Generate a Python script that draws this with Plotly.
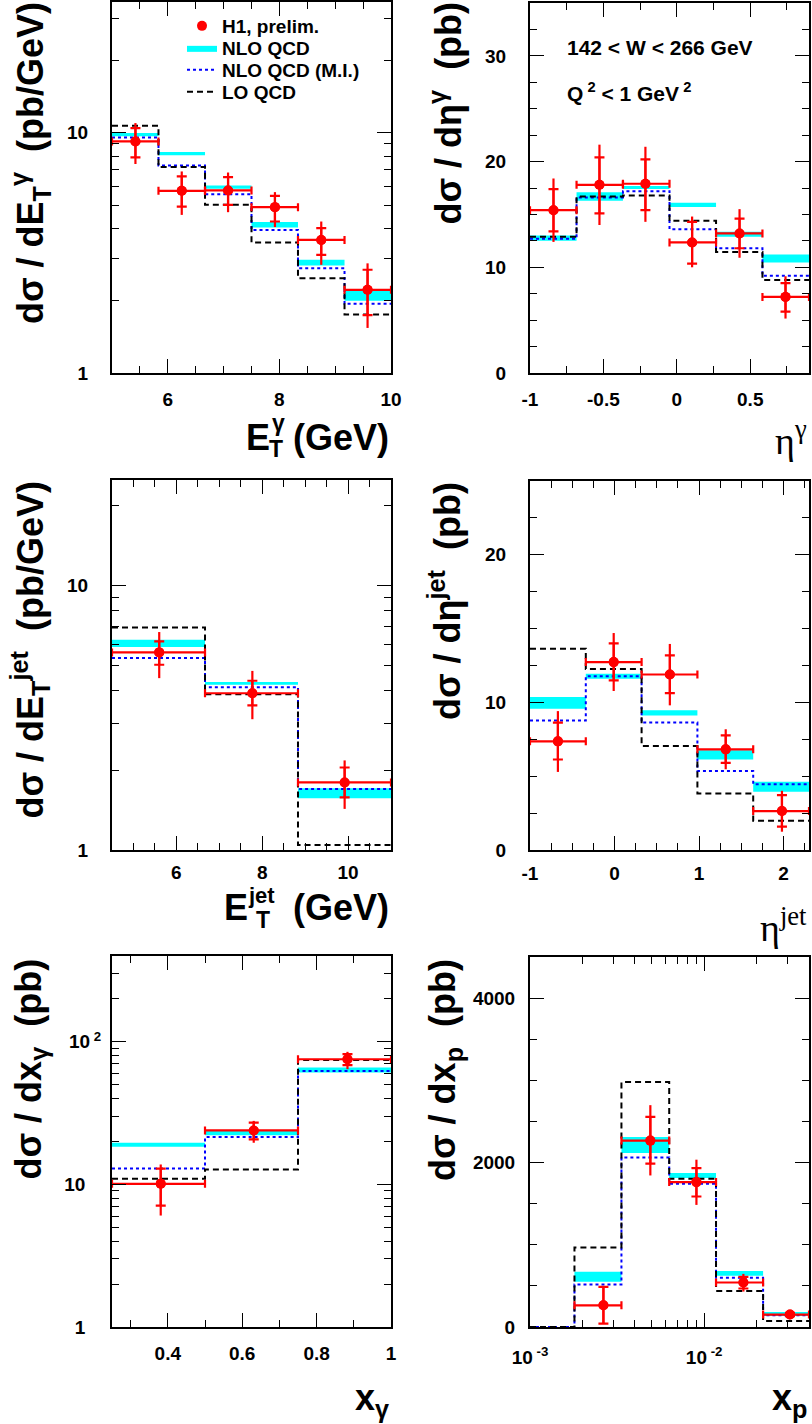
import math
import plotly.graph_objects as go

W, H = 812, 1424
FONT = "Liberation Sans, Arial, Helvetica, sans-serif"
RED, CYAN, BLUE = "#ff0000", "#00ffff", "#0000ff"

# ---------------- d sigma / d E_T^gamma ----------------
etg_edges = [5.0, 5.833, 6.667, 7.5, 8.333, 9.167, 10.0]
etg_x = [5.42, 6.25, 7.08, 7.92, 8.75, 9.58]
etg_val = [9.2, 5.73, 5.75, 4.90, 3.58, 2.22]
etg_tot_up = [1.77, 1.17, 1.08, 0.76, 0.69, 0.64]
etg_tot_dn = [1.79, 1.18, 1.08, 0.85, 0.76, 0.68]
etg_st_up = [1.26, 0.85, 0.79, 0.56, 0.43, 0.47]
etg_st_dn = [1.31, 0.80, 0.74, 0.63, 0.48, 0.48]
etg_nlo_lo = [9.66, 8.05, 5.84, 4.03, 2.80, 2.00]
etg_nlo_hi = [9.97, 8.31, 6.03, 4.25, 2.96, 2.22]
etg_mi = [9.56, 7.31, 5.55, 3.94, 2.73, 1.94]
etg_lo = [10.7, 7.2, 5.01, 3.49, 2.48, 1.75]

# ---------------- d sigma / d eta^gamma ----------------
etag_edges = [-1.0, -0.683, -0.367, -0.05, 0.267, 0.583, 0.9]
etag_x = [-0.84, -0.527, -0.214, 0.104, 0.427, 0.74]
etag_val = [15.4, 17.8, 17.9, 12.35, 13.2, 7.2]
etag_tot_up = [3.0, 3.8, 3.5, 2.45, 2.3, 1.95]
etag_tot_dn = [3.0, 3.8, 3.6, 2.35, 2.3, 2.05]
etag_st_up = [2.0, 2.6, 2.3, 1.95, 1.4, 1.3]
etag_st_dn = [2.0, 2.7, 2.5, 2.0, 1.4, 1.4]
etag_nlo_lo = [12.5, 16.3, 17.4, 15.7, 12.9, 10.45]
etag_nlo_hi = [13.0, 17.1, 17.7, 16.1, 13.35, 11.2]
etag_mi = [12.7, 16.6, 17.2, 13.6, 11.8, 9.2]
etag_lo = [12.9, 16.7, 16.8, 14.4, 11.45, 8.8]

# ---------------- d sigma / d E_T^jet ----------------
etj_edges = [4.5, 6.667, 8.833, 11.0]
etj_x = [5.6, 7.77, 9.92]
etj_val = [5.58, 3.91, 1.80]
etj_tot_up = [1.08, 0.84, 0.38]
etj_tot_dn = [1.12, 0.79, 0.37]
etj_st_up = [0.56, 0.45, 0.25]
etj_st_dn = [0.57, 0.39, 0.22]
etj_nlo_lo = [5.85, 4.21, 1.57]
etj_nlo_hi = [6.23, 4.31, 1.71]
etj_mi = [5.31, 4.12, 1.70]
etj_lo = [6.93, 3.88, 1.045]

# ---------------- d sigma / d eta^jet ----------------
etaj_edges = [-1.0, -0.34, 0.32, 0.98, 1.64, 2.3]
etaj_x = [-0.67, -0.01, 0.654, 1.315, 1.98]
etaj_val = [7.36, 12.73, 11.89, 6.82, 2.64]
etaj_tot_up = [2.05, 1.97, 2.07, 1.36, 1.37]
etaj_tot_dn = [2.07, 1.96, 2.09, 1.35, 1.40]
etaj_st_up = [1.27, 1.27, 1.29, 0.95, 1.08]
etaj_st_dn = [1.23, 1.24, 1.26, 0.92, 1.06]
etaj_nlo_lo = [9.57, 11.6, 9.12, 6.13, 3.94]
etaj_nlo_hi = [10.36, 11.94, 9.46, 6.76, 4.62]
etaj_mi = [8.78, 11.78, 8.63, 5.36, 4.46]
etaj_lo = [13.63, 12.27, 7.05, 3.83, 1.98]

# ---------------- d sigma / d x_gamma ----------------
xg_edges = [0.25, 0.5, 0.75, 1.0]
xg_x = [0.381, 0.631, 0.883]
xg_val = [10.1, 23.9, 75.5]
xg_tot_up = [3.7, 4.0, 9.6]
xg_tot_dn = [4.05, 4.3, 11.2]
xg_st_up = [2.8, 3.2, 6.4]
xg_st_dn = [3.0, 3.2, 6.9]
xg_nlo_lo = [18.4, 22.1, 60.9]
xg_nlo_hi = [19.6, 23.96, 66.0]
xg_mi = [12.95, 21.5, 62.5]
xg_lo = [10.96, 12.7, 74.7]

# ---------------- d sigma / d x_p ----------------
xp_edges = [0.001, 0.0018, 0.00335, 0.0063, 0.0117, 0.0218, 0.04]
xp_x = [0.00264, 0.00491, 0.00903, 0.0168, 0.0311]
xp_val = [264, 2267, 1762, 541, 151]
xp_tot_up = [224, 431, 273, 105, 30]
xp_tot_dn = [223, 424, 277, 110, 30]
xp_st_up = [224, 288, 171, 69, 20]
xp_st_dn = [223, 281, 175, 73, 20]
xp_nlo_lo = [0, 549, 2116, 1811, 623, 134]
xp_nlo_hi = [0, 671, 2311, 1872, 680, 183]
xp_mi = [0, 517, 2063, 1742, 598, 142]
xp_lo = [0, 968, 2979, 1803, 439, 73]

# legend entries, each in its own legend box
legend_names = ["H1, prelim.", "NLO QCD", "NLO QCD (M.I.)", "LO QCD"]


def px(x):
    return x / W


def py(y):
    return 1 - y / H


fig = go.Figure()


def add_panel(n, edges, x, val, tot_up, tot_dn, st_up, st_dn,
              nlo_lo, nlo_hi, mi, lo, data_edges=None, legend=False):
    xa, ya = "x%d" % n, "y%d" % n
    # NLO band: one filled box per bin
    bx, by = [], []
    for a, b, l, h in zip(edges[:-1], edges[1:], nlo_lo, nlo_hi):
        if h > l:
            bx += [a, b, b, a, a, None]
            by += [l, l, h, h, l, None]
    fig.add_trace(go.Scatter(
        x=bx, y=by, xaxis=xa, yaxis=ya, mode="lines", fill="toself",
        fillcolor=CYAN, line=dict(width=0, color=CYAN),
        name=legend_names[1], showlegend=legend, legend="legend2",
        hoverinfo="skip"))
    # NLO with multiple interactions (dotted step)
    fig.add_trace(go.Scatter(
        x=edges, y=list(mi) + [mi[-1]], xaxis=xa, yaxis=ya, mode="lines",
        line=dict(color=BLUE, width=2, dash="dot", shape="hv"),
        name=legend_names[2], showlegend=legend, legend="legend3"))
    # LO (dashed step)
    fig.add_trace(go.Scatter(
        x=edges, y=list(lo) + [lo[-1]], xaxis=xa, yaxis=ya, mode="lines",
        line=dict(color="black", width=2, dash="6px,4px", shape="hv"),
        name=legend_names[3], showlegend=legend, legend="legend4"))
    # data: bin widths as horizontal bars, total errors, stat ticks
    de = data_edges if data_edges is not None else edges
    ex_m = [xi - a for xi, a in zip(x, de[:-1])]
    ex_p = [b - xi for xi, b in zip(x, de[1:])]
    fig.add_trace(go.Scatter(
        x=x, y=val, xaxis=xa, yaxis=ya, mode="markers",
        marker=dict(color=RED, size=10),
        error_x=dict(type="data", symmetric=False, array=ex_p, arrayminus=ex_m,
                     color=RED, thickness=2.2, width=4),
        error_y=dict(type="data", symmetric=False, array=tot_up,
                     arrayminus=tot_dn, color=RED, thickness=2.2, width=0),
        name=legend_names[0], showlegend=legend, legend="legend"))
    fig.add_trace(go.Scatter(
        x=x, y=val, xaxis=xa, yaxis=ya, mode="markers",
        marker=dict(color=RED, size=10),
        error_y=dict(type="data", symmetric=False, array=st_up,
                     arrayminus=st_dn, color=RED, thickness=2.2, width=5),
        showlegend=False))


add_panel(1, etg_edges, etg_x, etg_val, etg_tot_up, etg_tot_dn, etg_st_up,
          etg_st_dn, etg_nlo_lo, etg_nlo_hi, etg_mi, etg_lo, legend=True)
add_panel(2, etag_edges, etag_x, etag_val, etag_tot_up, etag_tot_dn, etag_st_up,
          etag_st_dn, etag_nlo_lo, etag_nlo_hi, etag_mi, etag_lo)
add_panel(3, etj_edges, etj_x, etj_val, etj_tot_up, etj_tot_dn, etj_st_up,
          etj_st_dn, etj_nlo_lo, etj_nlo_hi, etj_mi, etj_lo)
add_panel(4, etaj_edges, etaj_x, etaj_val, etaj_tot_up, etaj_tot_dn, etaj_st_up,
          etaj_st_dn, etaj_nlo_lo, etaj_nlo_hi, etaj_mi, etaj_lo)
add_panel(5, xg_edges, xg_x, xg_val, xg_tot_up, xg_tot_dn, xg_st_up,
          xg_st_dn, xg_nlo_lo, xg_nlo_hi, xg_mi, xg_lo)
add_panel(6, xp_edges, xp_x, xp_val, xp_tot_up, xp_tot_dn, xp_st_up,
          xp_st_dn, xp_nlo_lo, xp_nlo_hi, xp_mi, xp_lo, data_edges=xp_edges[1:])

# ---------------- axes ----------------
TICKFONT = dict(family=FONT, size=19, color="black", weight="bold")


def base_axis(**kw):
    d = dict(showline=True, linecolor="black", linewidth=2, mirror="ticks",
             ticks="inside", ticklen=14, tickwidth=1.3, tickcolor="black",
             showgrid=False, zeroline=False, tickfont=TICKFONT, fixedrange=True,
             automargin=False)
    d.update(kw)
    return d


def minor_lin(step):
    return dict(ticks="inside", ticklen=7, tickwidth=1.3, tickcolor="black",
                showgrid=False, dtick=step)


def minor_vals(vals):
    return dict(ticks="inside", ticklen=7, tickwidth=1.3, tickcolor="black",
                showgrid=False, tickmode="array", tickvals=vals)


def log_minors(lo_dec, hi_dec):
    vals = []
    for d in range(lo_dec, hi_dec + 1):
        for k in range(2, 10):
            vals.append(k * 10.0 ** d)
    return vals


# pixel boxes of the six frames (left, right, top, bottom)
boxes = {
    1: (112, 391, 2, 373),
    2: (530, 809, 3, 373),
    3: (112, 391, 480, 850),
    4: (530, 809, 481, 850),
    5: (112, 391, 956, 1327),
    6: (530, 809, 957, 1327),
}


def dom(n):
    l, r, t, b = boxes[n]
    return [px(l), px(r)], [py(b), py(t)]


lay = {}
for n in range(1, 7):
    xd, yd = dom(n)
    lay["xaxis%d" % n] = dict(domain=xd, anchor="y%d" % n)
    lay["yaxis%d" % n] = dict(domain=yd, anchor="x%d" % n)

lay["xaxis1"].update(base_axis(range=[5, 10], tick0=0, dtick=2, minor=minor_lin(0.5),
                               ticklabelstandoff=8))
lay["yaxis1"].update(base_axis(type="log", range=[0, math.log10(35)],
                               tickvals=[1, 10], ticktext=["1", "10"],
                               minor=minor_vals(log_minors(0, 1)), ticklabelstandoff=18))
lay["xaxis2"].update(base_axis(range=[-1, 0.9], tickvals=[-1, -0.5, 0, 0.5],
                               ticktext=["-1", "-0.5", "0", "0.5"], minor=minor_lin(0.25),
                               ticklabelstandoff=8))
lay["yaxis2"].update(base_axis(range=[0, 35], tick0=0, dtick=10, minor=minor_lin(2.5),
                               ticklabelstandoff=18))
lay["xaxis3"].update(base_axis(range=[4.5, 11], tick0=0, dtick=2, minor=minor_lin(0.5),
                               ticklabelstandoff=4))
lay["yaxis3"].update(base_axis(type="log", range=[0, math.log10(25)],
                               tickvals=[1, 10], ticktext=["1", "10"],
                               minor=minor_vals(log_minors(0, 1)), ticklabelstandoff=18))
lay["xaxis4"].update(base_axis(range=[-1, 2.3], tickvals=[-1, 0, 1, 2],
                               ticktext=["-1", "0", "1", "2"], minor=minor_lin(0.25),
                               ticklabelstandoff=5))
lay["yaxis4"].update(base_axis(range=[0, 25], tick0=0, dtick=10, minor=minor_lin(2.5),
                               ticklabelstandoff=18))
lay["xaxis5"].update(base_axis(range=[0.25, 1], tick0=0, dtick=0.2, minor=minor_lin(0.1),
                               ticklabelstandoff=8))
lay["yaxis5"].update(base_axis(type="log", range=[0, math.log10(400)],
                               tickvals=[1, 10, 100],
                               ticktext=["1\u00a0\u00a0\u00a0", "10\u00a0\u00a0\u00a0",
                                         "10<sup> 2</sup>"],
                               minor=minor_vals(log_minors(0, 2)), ticklabelstandoff=5))
lay["xaxis6"].update(base_axis(type="log", range=[-3, math.log10(0.04)],
                               tickvals=[0.001, 0.01],
                               ticktext=["10<sup> -3</sup>", "10<sup> -2</sup>"],
                               minor=minor_vals(log_minors(-3, -2)), ticklabelstandoff=12))
lay["yaxis6"].update(base_axis(range=[0, 4500], tick0=0, dtick=2000, minor=minor_lin(500),
                               ticklabelstandoff=9))

# ---------------- titles and labels ----------------
TITLE_SIZE = 36
SMALL = 23
ann = []


def label(text, x, y, xanchor, size, weight="bold", family=FONT, angle=0,
          yanchor="middle"):
    ann.append(dict(text=text, x=px(x), y=py(y), xref="paper", yref="paper",
                    xanchor=xanchor, yanchor=yanchor, textangle=angle, showarrow=False,
                    font=dict(family=family, size=size, color="black", weight=weight)))


def ytitle(text, xc, ytop):
    label(text, xc, ytop, "center", TITLE_SIZE, angle=-90, yanchor="top")


ytitle("d\u03c3 / dE<sub>T</sub><sup>\u03b3</sup>  (pb/GeV)", 30, 0)
ytitle("d\u03c3 / d\u03b7<sup>\u03b3</sup>  (pb)", 445, 0)
ytitle("d\u03c3 / dE<sub>T</sub><sup>jet</sup>  (pb/GeV)", 30, 480)
ytitle("d\u03c3 / d\u03b7<sup>jet</sup>  (pb)", 445, 480)
ytitle("d\u03c3 / dx<sub>\u03b3</sub>  (pb)", 30, 957)
ytitle("d\u03c3 / dx<sub>p</sub>  (pb)", 445, 957)

# E_T titles: main letter, stacked super/subscript, unit
label("E", 244, 437, "left", TITLE_SIZE)
label("\u03b3", 270, 423, "left", SMALL)
label("T", 267, 449, "left", SMALL)
label("(GeV)", 391, 437, "right", TITLE_SIZE)

label("E", 222, 907, "left", TITLE_SIZE)
label("jet", 246, 895, "left", 22)
label("T", 254, 920, "left", SMALL)
label("(GeV)", 391, 907, "right", TITLE_SIZE)

label("\u03b7<sup>\u03b3</sup>", 809, 438, "right", 38, weight="normal",
      family="Liberation Serif, serif")
label("\u03b7<sup>jet</sup>", 809, 925, "right", 38, weight="normal",
      family="Liberation Serif, serif")
label("x<sub>\u03b3</sub>", 391, 1400, "right", TITLE_SIZE)
label("x<sub>p</sub>", 809, 1400, "right", TITLE_SIZE)

label("142 &lt; W &lt; 266 GeV", 565, 48, "left", 21)
label("Q<sup> 2</sup> &lt; 1 GeV<sup> 2</sup>", 565, 92, "left", 21)


def legend_box(yc):
    return dict(x=px(182), y=py(yc), xanchor="left", yanchor="middle",
                bgcolor="rgba(0,0,0,0)", borderwidth=0, itemwidth=30,
                font=dict(family=FONT, size=19, color="black", weight="bold"))


fig.update_layout(
    width=W, height=H, margin=dict(l=0, r=0, t=0, b=0, autoexpand=False),
    paper_bgcolor="white", plot_bgcolor="white",
    annotations=ann,
    legend=legend_box(26), legend2=legend_box(48),
    legend3=legend_box(70), legend4=legend_box(92),
    **lay,
)

fig.write_html("out.html", post_script="document.body.style.margin='0';")
